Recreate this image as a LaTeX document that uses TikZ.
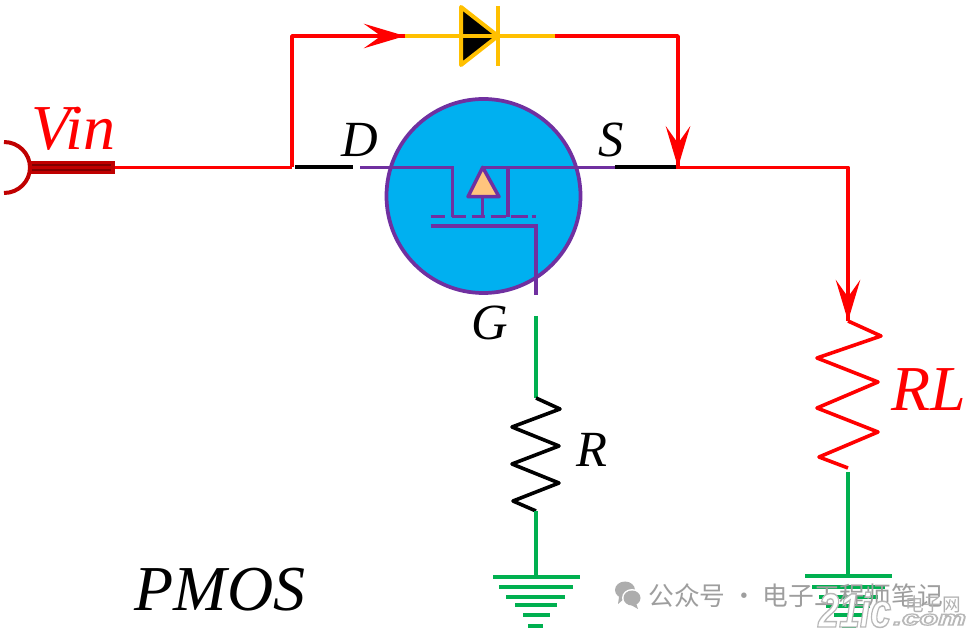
\documentclass[tikz,border=0pt]{standalone}
\usepackage{fontspec}
\setmainfont{Liberation Serif}
\setsansfont{Liberation Sans}
\newfontfamily\cjkfont{Noto Sans CJK SC}
\usetikzlibrary{arrows.meta}
\definecolor{wirered}{HTML}{FF0000}
\definecolor{darkred}{HTML}{C00000}
\definecolor{deepred}{HTML}{800000}
\definecolor{amber}{HTML}{FFC000}
\definecolor{gnd}{HTML}{00B050}
\definecolor{violet}{HTML}{7030A0}
\definecolor{skyfill}{HTML}{00B0F0}
\definecolor{peach}{HTML}{FFC47D}
\newcommand{\outlined}[1]{\special{pdf:code 2 Tr 1.1 w 0.72 G}#1\special{pdf:code 0 Tr}}
\tikzset{
 redwire/.style={draw=wirered,line width=2.6pt,line join=round},
 greenwire/.style={draw=gnd,line width=2.6pt},
 purpwire/.style={draw=violet,line width=2.6pt},
 amberwire/.style={draw=amber,line width=3pt},
 blackwire/.style={draw=black,line width=2.7pt,line join=round},
 gndbar/.style={draw=gnd,line width=2.9pt},
 tlabel/.style={inner sep=0pt,anchor=base,font=\itshape\fontsize{38pt}{38pt}\selectfont},
 blabel/.style={inner sep=0pt,anchor=base,font=\itshape\fontsize{48pt}{48pt}\selectfont},
 tip/.style={-{Stealth[length=31pt,width=18.5pt,inset=13pt,line width=0pt,fill=wirered]}},
}
\begin{document}
\begin{tikzpicture}[x=0.75pt,y=-0.75pt]
\useasboundingbox (0,0) rectangle (972,634);
\fill[white] (0,0) rectangle (972,634);
% coordinates
\coordinate (vinend) at (115,167.3);
\coordinate (junc) at (292,167.3);
\coordinate (jd) at (295,167.3);
\coordinate (blk1) at (353,167.3);
\coordinate (dstart) at (360,167.3);
\coordinate (send) at (615,167.3);
\coordinate (blk2) at (676,167.3);
\coordinate (top1) at (292,36);
\coordinate (dioL) at (405,36);
\coordinate (dioR) at (555,36);
\coordinate (top2) at (678,36);
\coordinate (jr) at (678,167.3);
\coordinate (corner) at (848,167.3);
\coordinate (rlTop) at (848,321);
\coordinate (rlBot) at (848,468);
\coordinate (rlGreen) at (848,472);
\coordinate (gndR) at (848,576);
\coordinate (gTop) at (536,316);
\coordinate (rTop) at (536,398);
\coordinate (rBot) at (536,511);
\coordinate (gndM) at (536,577);
% Vin
\draw[darkred,line width=3pt] (4,142) arc[start angle=-90,end angle=90,x radius=26,y radius=25.5];
\fill[darkred] (30,161) rectangle (115,174);
\fill[deepred] (32,164) rectangle (111,166.5);
\fill[deepred] (32,169) rectangle (111,171);
\draw[redwire,line width=2.5pt] (vinend) -- (190,167.3);
\draw[redwire] (190,167.3) -- (junc);
\draw[blackwire] (jd) -- (blk1);
\draw[blackwire] (send) -- (blk2);
% top branch
\draw[redwire] (junc) -- (top1) -- (dioL);
\draw[wirered,line width=2.6pt,tip] (top1) -- (dioL);
\draw[redwire] (dioR) -- (top2) -- (jr);
\draw[wirered,line width=2.6pt,tip] (top2) -- (jr);
\draw[redwire] (blk2) -- (corner) -- (rlTop);
\draw[wirered,line width=2.6pt,tip] (corner) -- (rlTop);
% diode
\draw[amberwire] (dioL) -- (dioR);
\draw[amber,line width=3pt,fill=black,line join=round] (461,7) -- (498,36) -- (461,65) -- cycle;
\draw[amberwire] (461,36) -- (498,36);
\draw[amberwire] (498,6) -- (498,66);
% MOSFET
\draw[draw=violet,line width=2.8pt,fill=skyfill] (483.5,196) circle[radius=97];
\draw[purpwire] (dstart) -- (452.7,167.3) -- (452.7,216.7);
\draw[purpwire] (482.7,167.3) -- (send);
\draw[purpwire] (508,167.3) -- (508,216.7);
\draw[purpwire] (482.7,196.7) -- (482.7,216.7);
\draw[draw=violet,fill=peach,line width=2.6pt,line join=round] (482.7,167.3) -- (468,196.7) -- (499,196.7) -- cycle;
\foreach \a/\b in {430.7/445,451.7/465.7,471.7/485,490.7/505.7,510.7/528,531.7/536}
  \draw[purpwire] (\a,216.7) -- (\b,216.7);
\draw[purpwire] (430.7,226) -- (536,226) -- (536,295);
% labels
\node[blabel,text=wirered,anchor=base west] (vin) at (31,150) {Vin};
\node[tlabel] (dl) at (360,157) {D};
\node[tlabel] (sl) at (611,157) {S};
\node[tlabel] (gl) at (490,340) {G};
\node[tlabel] (rl) at (592,467) {R};
\node[blabel,text=wirered] (rll) at (929,411) {RL};
\node[blabel] (pm) at (220,611) {PMOS};
% R
\draw[greenwire] (gTop) -- (rTop);
\draw[blackwire] (rTop) -- (560,409) -- (512,427) -- (559,446) -- (512,464) -- (559,483) -- (513,501) -- (rBot);
\draw[greenwire] (rBot) -- (gndM);
\foreach \y/\a/\b in {577/493/580,587/499/573,597/506/565,605/515/557,615/523/550,626/528/543}
  \draw[gndbar] (\a,\y) -- (\b,\y);
% RL
\draw[wirered,line width=2.7pt,line join=round] (rlTop) -- (881,336) -- (817,358) -- (878,382) -- (817,408) -- (878,432) -- (819,457) -- (rlBot);
\draw[greenwire] (rlGreen) -- (gndR);
\foreach \y/\a/\b in {576/805/892,587/812/885,597/819/878,606/826/870,615/834/862,626/842/856}
  \draw[gndbar] (\a,\y) -- (\b,\y);
% watermark
\fill[black!32] (625,590) ellipse[x radius=10,y radius=8.5];
\fill[black!32] (619,597) -- (618,604) -- (625,598) -- cycle;
\fill[white] (632,598) ellipse[x radius=10,y radius=9];
\fill[black!32] (632,598) ellipse[x radius=8.5,y radius=7.5];
\fill[black!32] (636,603) -- (638,609) -- (631,605) -- cycle;
\node[inner sep=0pt,anchor=west,text=black!38,font=\cjkfont\fontsize{19.3pt}{19.3pt}\selectfont] (wm) at (648,596) {公众号 · 电子工程师笔记};
\node[inner sep=0pt,anchor=west,text=black!30,font=\cjkfont\fontsize{14pt}{14pt}\selectfont] (wm2) at (905,604) {电子网};
\node[inner sep=0pt,anchor=base west,text=white,font=\sffamily\bfseries\itshape\fontsize{36pt}{36pt}\selectfont] (logo) at (818,627) {\scalebox{0.78}[1]{\outlined{21ic}}};
\node[inner sep=0pt,anchor=base west,text=white,font=\sffamily\bfseries\itshape\fontsize{18pt}{18pt}\selectfont] (logo2) at (893,625) {\scalebox{1.3}[0.85]{\outlined{.com}}};
\end{tikzpicture}
\end{document}
